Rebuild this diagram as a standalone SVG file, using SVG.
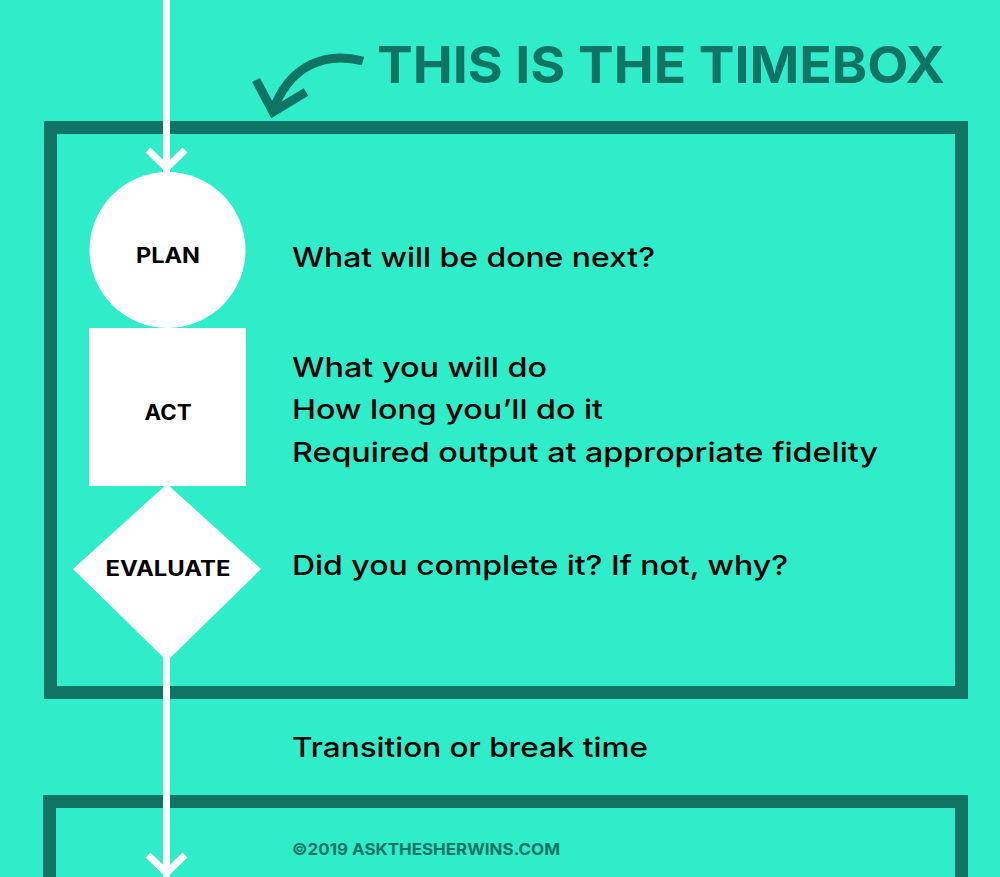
<svg xmlns="http://www.w3.org/2000/svg" width="1000" height="877" viewBox="0 0 1000 877">
<style>
.box{fill:none;stroke:#0f7464;stroke-width:13}
.wire{fill:none;stroke:#ffffff;stroke-width:7}
.shape{fill:#ffffff}
.lbl{font-family:Inter,"Noto Sans",sans-serif;font-weight:700;font-size:21px;fill:#000;text-anchor:middle}
.body{font-family:Inter,"Noto Sans",sans-serif;font-weight:500;font-size:27px;fill:#000}
.title{font-family:Inter,"Noto Sans",sans-serif;font-weight:700;font-size:51px;fill:#0f7464}
.copy{font-family:Inter,"Noto Sans",sans-serif;font-weight:700;font-size:16px;fill:#0f7464}
.callout{fill:none;stroke:#0f7464;stroke-width:9}
</style>
<rect x="0" y="0" width="1000" height="877" fill="#30edca"/>
<g id="timebox">
<rect class="box" x="50.5" y="127.5" width="911" height="565"/>
</g>
<g id="timebox2">
<rect class="box" x="49.5" y="801.5" width="912" height="200"/>
</g>
<g id="title">
<text class="title" x="377" y="83" textLength="568" lengthAdjust="spacingAndGlyphs">THIS IS THE TIMEBOX</text>
<path class="callout" d="M 363 61 C 328 52 290 62 272 113"/>
<polyline class="callout" points="256,80 273,112 306,92"/>
</g>
<g id="connectors">
<line class="wire" x1="166.5" y1="0" x2="166.5" y2="172"/>
<polyline class="wire" points="148,150 166.5,168 185,150"/>
<line class="wire" x1="166.5" y1="655" x2="166.5" y2="877"/>
<polyline class="wire" points="148,855 166.5,873 185,855"/>
</g>
<g id="plan">
<circle class="shape" cx="167.5" cy="250" r="78"/>
<text class="lbl" x="168" y="263" textLength="64" lengthAdjust="spacingAndGlyphs">PLAN</text>
</g>
<g id="act">
<rect class="shape" x="89" y="328" width="157" height="158"/>
<text class="lbl" x="168" y="420" textLength="47" lengthAdjust="spacingAndGlyphs">ACT</text>
</g>
<g id="evaluate">
<polygon class="shape" points="167,484 261,569 167,661 73,569"/>
<text class="lbl" x="168" y="576" textLength="125" lengthAdjust="spacingAndGlyphs">EVALUATE</text>
</g>
<g id="texts">
<text class="body" x="292" y="267" textLength="363" lengthAdjust="spacingAndGlyphs">What will be done next?</text>
<text class="body" x="292" y="377" textLength="255" lengthAdjust="spacingAndGlyphs">What you will do</text>
<text class="body" x="292" y="419" textLength="311" lengthAdjust="spacingAndGlyphs">How long you’ll do it</text>
<text class="body" x="292" y="462" textLength="586" lengthAdjust="spacingAndGlyphs">Required output at appropriate fidelity</text>
<text class="body" x="292" y="575" textLength="496" lengthAdjust="spacingAndGlyphs">Did you complete it? If not, why?</text>
<text class="body" x="292" y="757" textLength="356" lengthAdjust="spacingAndGlyphs">Transition or break time</text>
<text class="copy" x="292" y="855" textLength="268" lengthAdjust="spacingAndGlyphs">©2019 ASKTHESHERWINS.COM</text>
</g>
</svg>
